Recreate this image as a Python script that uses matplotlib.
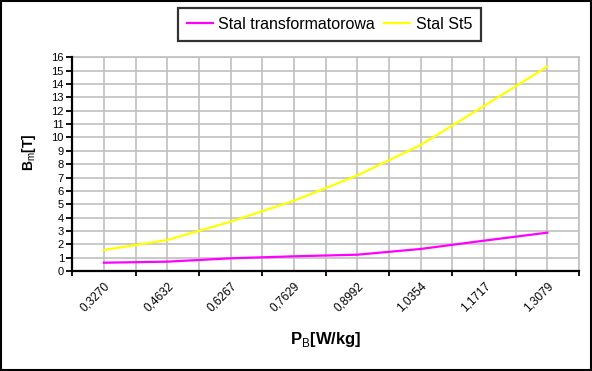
import numpy as np
import matplotlib
matplotlib.use('Agg')
import matplotlib.pyplot as plt
from matplotlib.patches import Rectangle
from matplotlib.transforms import ScaledTranslation

plt.rcParams['font.family'] = ['Liberation Sans', 'DejaVu Sans']
plt.rcParams['mathtext.fontset'] = 'custom'
plt.rcParams['mathtext.rm'] = 'Liberation Sans'
plt.rcParams['mathtext.bf'] = 'Liberation Sans:bold'

# dane
pb_labels = ['0,3270', '0,4632', '0,6267', '0,7629', '0,8992', '1,0354', '1,1717', '1,3079']
b_trafo = [0.62, 0.70, 0.95, 1.10, 1.22, 1.65, 2.27, 2.87]
b_st5 = [1.57, 2.32, 3.69, 5.26, 7.15, 9.43, 12.35, 15.3]

fig = plt.figure(figsize=(5.92, 3.71), dpi=100)
ax = fig.add_axes([72.3 / 592, 1 - 271 / 371, (579 - 72.3) / 592, (271 - 57.3) / 371])

x = np.arange(len(pb_labels))
ax.plot(x, b_trafo, color='#FF00FF', lw=1.6, label='Stal transformatorowa', zorder=3)
ax.plot(x, b_st5, color='#FFFF00', lw=1.6, label='Stal St5', zorder=3)

ax.set_xlim(-0.5, len(pb_labels) - 0.5)
ax.set_ylim(0, 16)

# osie
ax.set_xticks(x)
ax.set_xticklabels(pb_labels, rotation=45, ha='right', va='top', rotation_mode='anchor', fontsize=8.5)
shift = ScaledTranslation(-4 / 100, 0, fig.dpi_scale_trans)
for lab in ax.get_xticklabels():
    lab.set_transform(lab.get_transform() + shift)
ax.set_xticks(np.arange(-0.5, len(pb_labels)), minor=True)
ax.tick_params(axis='x', which='major', length=0, pad=6.5)
ax.tick_params(axis='x', which='minor', length=3.5, width=1.3, direction='out', color='black')
ax.set_yticks(range(0, 17))
ax.tick_params(axis='y', which='major', length=4, width=1.3, labelsize=8, pad=2)

ax.grid(True, which='both', axis='x', color='#C0C0C0', lw=1.2)
ax.grid(True, which='major', axis='y', color='#C0C0C0', lw=1.2)
ax.set_axisbelow(True)

for s in ['left', 'bottom']:
    ax.spines[s].set_color('black')
    ax.spines[s].set_linewidth(1.6)
    ax.spines[s].set_zorder(4)
for s in ['top', 'right']:
    ax.spines[s].set_color('#C0C0C0')
    ax.spines[s].set_linewidth(1.2)

ax.set_xlabel(r'P$_{\rm B}$[W/kg]', fontsize=12, fontweight='bold')
ax.xaxis.set_label_coords(0.5, -0.275)
ax.set_ylabel(r'B$_{\rm m}$[T]', fontsize=10, fontweight='bold')
ax.yaxis.set_label_coords(-0.068, 0.557)

leg = fig.legend(loc='center', bbox_to_anchor=(329.5 / 592, 1 - 24.5 / 371), ncol=2, fontsize=11.5,
                 frameon=True, fancybox=False, handlelength=1.6, handletextpad=0.35,
                 columnspacing=0.6, borderpad=0.55)
leg.get_frame().set_edgecolor('black')
leg.get_frame().set_linewidth(1.6)

# ramka wykresu
fig.patches.append(Rectangle((0.001, 0.002), 0.997, 0.995, transform=fig.transFigure,
                             fill=False, edgecolor='black', lw=1.5))

fig.savefig('out.png', dpi=100)
